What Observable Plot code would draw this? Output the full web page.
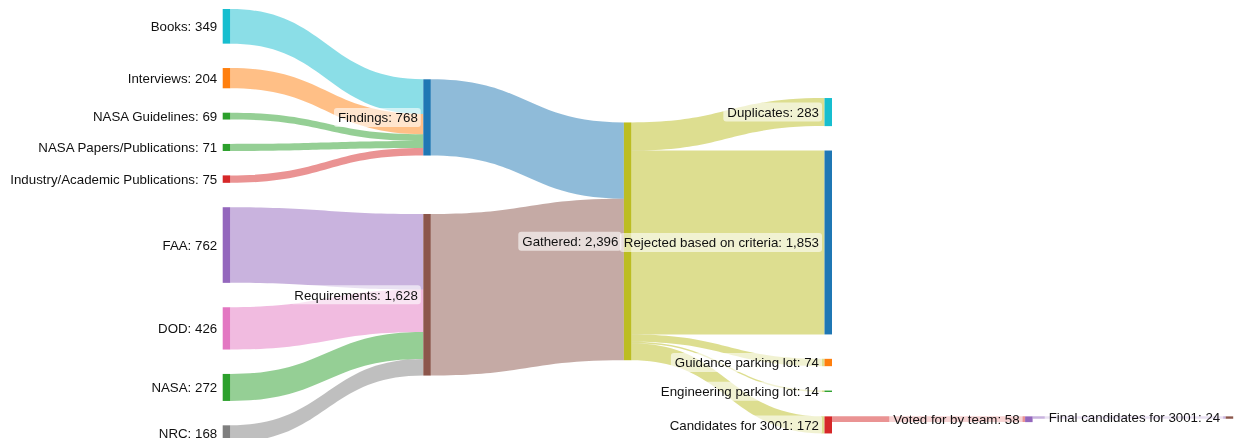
<!DOCTYPE html>
<html><head><meta charset="utf-8">
<script src="https://cdn.jsdelivr.net/npm/d3@7"></script>
<script src="https://cdn.jsdelivr.net/npm/@observablehq/plot@0.6"></script>
<style>html,body{margin:0;padding:0;background:#fff;overflow:hidden}</style>
</head><body><div id="chart"></div>
<script>
const nodeNames = ["Books","Interviews","NASA Guidelines","NASA Papers/Publications","Industry/Academic Publications","FAA","DOD","NASA","NRC","Findings","Requirements","Gathered","Duplicates","Rejected based on criteria","Guidance parking lot","Engineering parking lot","Candidates for 3001","Voted for by team","Final candidates for 3001"];
const nodeColors = ["#17becf","#ff7f0e","#2ca02c","#2ca02c","#d62728","#9467bd","#e377c2","#2ca02c","#7f7f7f","#1f77b4","#8c564b","#bcbd22","#17becf","#1f77b4","#ff7f0e","#2ca02c","#d62728","#9467bd","#8c564b"];
const linkSources = ["Books","Interviews","NASA Guidelines","NASA Papers/Publications","Industry/Academic Publications","FAA","DOD","NASA","NRC","Findings","Requirements","Gathered","Gathered","Gathered","Gathered","Gathered","Candidates for 3001","Voted for by team"];
const linkTargets = ["Findings","Findings","Findings","Findings","Findings","Requirements","Requirements","Requirements","Requirements","Gathered","Gathered","Duplicates","Rejected based on criteria","Guidance parking lot","Engineering parking lot","Candidates for 3001","Voted for by team","Final candidates for 3001"];
const linkValues = [349,204,69,71,75,762,426,272,168,768,1628,283,1853,74,14,172,58,24];

// ---- layout settings ----
const FONT = "'Liberation Sans', Arial, Helvetica, sans-serif";
const FONT_SIZE = 13.3;
const X_LEFT = 222.7, COL_STEP = 200.6, NODE_W = 7.5 / COL_STEP;
const Y_EXTENT = 433, PAD = 24.4, ITER = 400, ALPHA = 0.5;

// ---- sankey layout: nodes relax toward positions that keep their links level ----
function sankeyLayout() {
  const nodes = nodeNames.map((name, i) => ({name, color: nodeColors[i], index: i, sourceLinks: [], targetLinks: []}));
  const byName = new Map(nodes.map(n => [n.name, n]));
  const links = linkValues.map((value, i) => {
    const l = {index: i, value, source: byName.get(linkSources[i]), target: byName.get(linkTargets[i])};
    l.source.sourceLinks.push(l); l.target.targetLinks.push(l);
    return l;
  });
  for (const n of nodes) n.value = Math.max(d3.sum(n.sourceLinks, l => l.value), d3.sum(n.targetLinks, l => l.value));
  let current = new Set(nodes), next = new Set, x = 0;
  while (current.size) {
    for (const n of current) { n.depth = x; for (const {target} of n.sourceLinks) next.add(target); }
    x++; current = next; next = new Set;
  }
  const nCols = d3.max(nodes, d => d.depth) + 1;
  const columns = Array.from({length: nCols}, () => []);
  for (const n of nodes) { n.x0 = n.depth; n.x1 = n.depth + NODE_W; columns[n.depth].push(n); }
  const y0 = 0, y1 = Y_EXTENT;
  const py = Math.min(PAD, (y1 - y0) / (d3.max(columns, c => c.length) - 1));
  const ky = d3.min(columns, c => (y1 - y0 - (c.length - 1) * py) / d3.sum(c, d => d.value));
  for (const l of links) l.width = l.value * ky;
  for (const col of columns) {
    let y = y0;
    for (const n of col) { n.y0 = y; n.y1 = y + n.value * ky; y = n.y1 + py; }
    y = (y1 - y + py) / (col.length + 1);
    col.forEach((n, i) => { n.y0 += y * (i + 1); n.y1 += y * (i + 1); });
  }
  function linkOffsets() {
    for (const n of nodes) {
      n.sourceLinks.sort((a, b) => a.target.y0 - b.target.y0 || a.index - b.index);
      n.targetLinks.sort((a, b) => a.source.y0 - b.source.y0 || a.index - b.index);
      let a = 0; for (const l of n.sourceLinks) { l.offS = a; a += l.width; }
      let b = 0; for (const l of n.targetLinks) { l.offT = b; b += l.width; }
    }
  }
  const shift = (n, dy) => { n.y0 += dy; n.y1 += dy; };
  function resolve(col) {
    const k = d3.maxIndex(col, d => d.value), s = col[k];
    let y = s.y0 - py;
    for (let i = k - 1; i >= 0; --i) { const n = col[i], dy = n.y1 - y; if (dy > 0) shift(n, -dy); y = n.y0 - py; }
    y = s.y1 + py;
    for (let i = k + 1; i < col.length; ++i) { const n = col[i], dy = y - n.y0; if (dy > 0) shift(n, dy); y = n.y1 + py; }
    y = y1;
    for (let i = col.length - 1; i >= 0; --i) { const n = col[i], dy = n.y1 - y; if (dy > 0) shift(n, -dy); y = n.y0 - py; }
    y = y0;
    for (let i = 0; i < col.length; ++i) { const n = col[i], dy = y - n.y0; if (dy > 0) shift(n, dy); y = n.y1 + py; }
  }
  linkOffsets();
  for (let it = 0; it < ITER; ++it) {
    for (const col of columns) {
      for (const n of col) {
        let s = 0, w = 0;
        for (const l of n.targetLinks) { s += l.value * (l.source.y0 + l.offS - l.offT); w += l.value; }
        for (const l of n.sourceLinks) { s += l.value * (l.target.y0 + l.offT - l.offS); w += l.value; }
        if (w > 0) shift(n, (s / w - n.y0) * ALPHA);
      }
      resolve(col);
    }
  }
  linkOffsets();
  for (const l of links) {
    l.ys0 = l.source.y0 + l.offS; l.ys1 = l.ys0 + l.width;
    l.yt0 = l.target.y0 + l.offT; l.yt1 = l.yt0 + l.width;
  }
  return {nodes, links};
}

const {nodes, links} = sankeyLayout();
const fmt = d3.format(",");
const label = d => `${d.name}: ${fmt(d.value)}`;

const ribbon = links.flatMap(l => [
  {id: l.index, x: l.source.x1, top: l.ys0, bottom: l.ys1, color: l.source.color},
  {id: l.index, x: l.target.x0, top: l.yt0, bottom: l.yt1, color: l.source.color}
]);

const ctx = document.createElement("canvas").getContext("2d");
ctx.font = `${FONT_SIZE}px ${FONT}`;
for (const n of nodes) n.tw = ctx.measureText(label(n)).width;
const cy = d => (d.y0 + d.y1) / 2;

const chart = Plot.plot({
  width: 1239,
  height: 438,
  margin: 0,
  x: {domain: [0, 5], range: [X_LEFT, X_LEFT + 5 * COL_STEP], axis: null},
  y: {domain: [0, Y_EXTENT], range: [9, 9 + Y_EXTENT], axis: null},
  color: {type: "identity"},
  style: {fontFamily: FONT, background: "#fff"},
  marks: [
    Plot.area(ribbon, {x1: "x", y1: "top", y2: "bottom", z: "id", fill: "color", fillOpacity: 0.5, curve: "bump-x", mixBlendMode: "multiply"}),
    Plot.rect(nodes, {x1: "x0", x2: "x1", y1: "y0", y2: "y1", fill: "color"}),
    Plot.rect(nodes, {
      x1: d => d.x0 - (6 + d.tw + 3.5) / COL_STEP,
      x2: d => d.x0 - 2.5 / COL_STEP,
      y1: d => cy(d) - 9.5, y2: d => cy(d) + 9.5,
      fill: "white", fillOpacity: 0.6, rx: 3
    }),
    Plot.text(nodes, {x: "x0", y: cy, text: label, textAnchor: "end", dx: -6, fontSize: FONT_SIZE, fontFamily: FONT, fill: "#111"})
  ]
});
document.getElementById("chart").appendChild(chart);
</script>
</body></html>
